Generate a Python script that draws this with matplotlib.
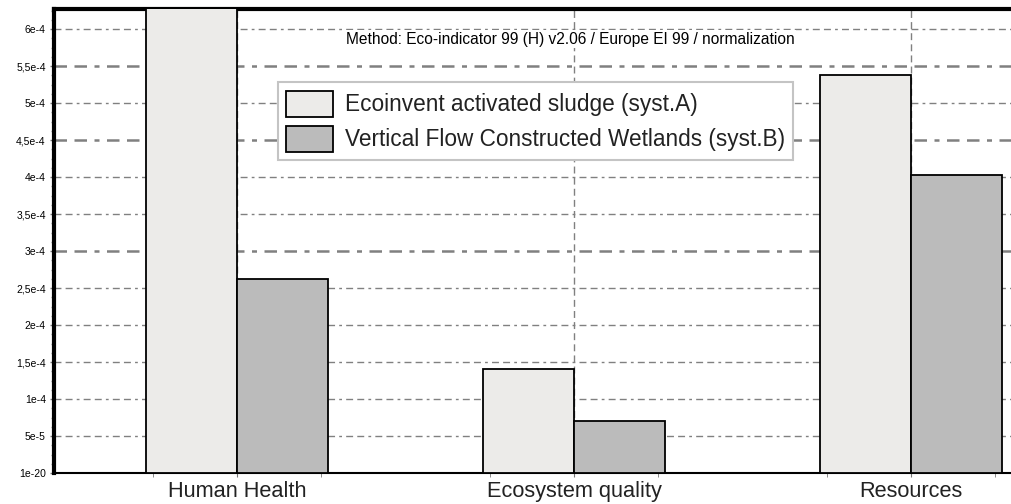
import matplotlib
matplotlib.use('Agg')
import matplotlib.pyplot as plt
import numpy as np

# values (normalization, Eco-indicator 99)
categories = ['Human Health', 'Ecosystem quality', 'Resources']
syst_a = [7.2e-4, 1.41e-4, 5.38e-4]
syst_b = [2.62e-4, 0.70e-4, 4.03e-4]
label_a = 'Ecoinvent activated sludge (syst.A)'
label_b = 'Vertical Flow Constructed Wetlands (syst.B)'
yticks = [0, 5e-5, 1e-4, 1.5e-4, 2e-4, 2.5e-4, 3e-4, 3.5e-4, 4e-4, 4.5e-4, 5e-4, 5.5e-4, 6e-4]
ytick_labels = ['1e-20', '5e-5', '1e-4', '1,5e-4', '2e-4', '2,5e-4', '3e-4', '3,5e-4',
                '4e-4', '4,5e-4', '5e-4', '5,5e-4', '6e-4']

plt.rcParams['font.family'] = ['Liberation Sans', 'DejaVu Sans']

fig = plt.figure(figsize=(10.12, 5.04), dpi=100)
ax = fig.add_axes([0.0534, 0.0615, 0.9466, 0.9205])

x = np.arange(len(categories))
w = 0.27
ax.bar(x - w / 2, syst_a, w, color='#ECEBE9', edgecolor='black', linewidth=1.3, label=label_a, zorder=3)
ax.bar(x + w / 2, syst_b, w, color='#BBBBBB', edgecolor='black', linewidth=1.3, label=label_b, zorder=3)

ax.set_xlim(-0.543, 2.30)
ax.set_ylim(0, 6.27e-4)

ax.set_yticks(yticks)
ax.set_yticklabels(ytick_labels, fontsize=7.5)
ax.set_yticks(np.arange(0, 6.27e-4, 1.25e-5), minor=True)
ax.tick_params(axis='y', which='major', length=3, width=1, pad=3, color='#777777')
ax.tick_params(axis='y', which='minor', length=2, width=1, color='#999999')

ax.set_xticks(x)
ax.set_xticklabels(categories, fontsize=15.7, color='#222222')
ax.set_xticks(np.concatenate([x - 0.25, x + 0.25]), minor=True)
ax.tick_params(axis='x', which='major', length=3, color='#777777', pad=3)
ax.tick_params(axis='x', which='minor', length=3, color='#777777')

# grid: dash-dot gray horizontals, dashed verticals at the categories
for t in yticks[1:]:
    lw = 1.8 if t in (5.5e-4, 4.5e-4, 3e-4) else 1.0
    ax.axhline(t, color='#808080', linewidth=lw, dashes=(5, 3, 5, 3, 2, 3), zorder=1)
for xv in x:
    ax.axvline(xv, color='#808080', linewidth=1.0, dashes=(5, 3), zorder=1)

for side in ['left', 'top']:
    ax.spines[side].set_linewidth(3)
ax.spines['bottom'].set_linewidth(1.5)
ax.spines['right'].set_visible(False)

ax.text(0.539, 0.935, 'Method: Eco-indicator 99 (H) v2.06 / Europe EI 99 / normalization',
        transform=ax.transAxes, ha='center', va='center', fontsize=11.2,
        bbox=dict(facecolor='white', edgecolor='none', pad=1), zorder=5)

leg = ax.legend(loc='upper left', bbox_to_anchor=(0.2335, 0.843), borderaxespad=0, fontsize=16.3,
                handlelength=2.08, handleheight=1.4, borderpad=0.38, labelspacing=0.4,
                handletextpad=0.5, fancybox=False, framealpha=1, edgecolor='#C4C4C4')
leg.get_frame().set_linewidth(1.5)
for txt in leg.get_texts():
    txt.set_color('#222222')

fig.savefig('out.png', dpi=100)
